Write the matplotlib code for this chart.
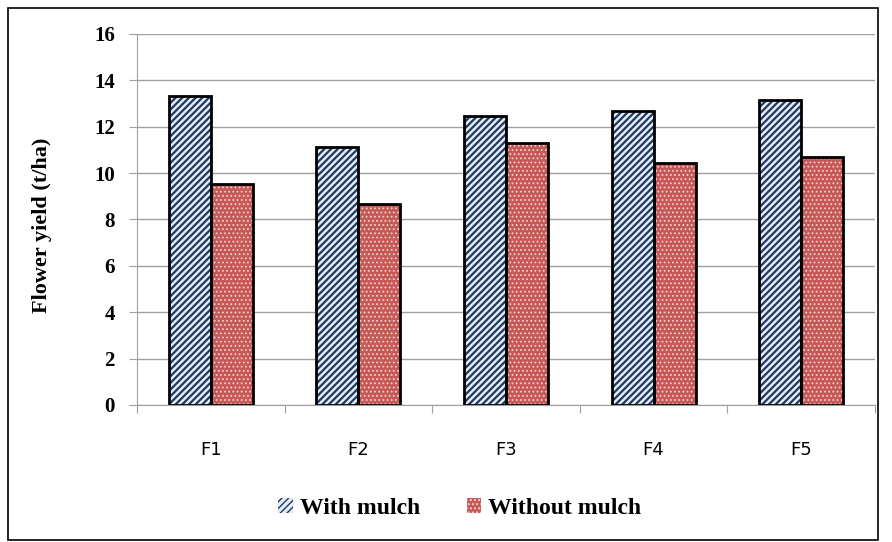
import numpy as np
import matplotlib.pyplot as plt
from matplotlib.patches import Rectangle

# data
cats = ["F1", "F2", "F3", "F4", "F5"]
with_mulch = [13.34, 11.14, 12.46, 12.69, 13.14]
without_mulch = [9.54, 8.67, 11.31, 10.42, 10.71]

fig = plt.figure(figsize=(8.92, 5.42), dpi=100)
ax = fig.add_axes([137/892, 1-405/542, (875-137)/892, (405-34)/542])

x = np.arange(len(cats))
w = 0.285

# hatched fills first, then black outlines
with plt.rc_context({"hatch.linewidth": 1.6}):
    ax.bar(x - w/2, with_mulch, w, color="#e4ecf6", edgecolor="#1f3864",
           hatch="/////", linewidth=0, zorder=2)
    h1 = Rectangle((0, 0), 1, 1, facecolor="#e4ecf6", edgecolor="#1f3864",
                   hatch="/////", lw=0)
with plt.rc_context({"hatch.linewidth": 0.8}):
    ax.bar(x + w/2, without_mulch, w, color="#c65856", edgecolor="#f0d0d0",
           hatch="....", linewidth=0, zorder=2)
    h2 = Rectangle((0, 0), 1, 1, facecolor="#c65856", edgecolor="#f0d0d0",
                   hatch="....", lw=0)
ax.bar(x - w/2, with_mulch, w, fill=False, edgecolor="black", linewidth=2, zorder=3)
ax.bar(x + w/2, without_mulch, w, fill=False, edgecolor="black", linewidth=2, zorder=3)

ax.set_xlim(-0.5, 4.5)
ax.set_ylim(0, 16)
ax.set_yticks(np.arange(0, 17, 2))
ax.yaxis.grid(True, color="#a0a0a0", linewidth=1)
ax.set_axisbelow(True)
ax.set_xticks(np.arange(-0.5, 5, 1), minor=False)
ax.set_xticklabels([])
ax.set_xticks(x, minor=True)
ax.set_xticklabels(cats, minor=True, fontsize=13, family="DejaVu Sans")
ax.tick_params(axis="x", which="major", length=6, color="#a0a0a0")
ax.tick_params(axis="x", which="minor", length=0, pad=26)
ax.tick_params(axis="y", length=6, color="#a0a0a0", pad=10)
for lab in ax.get_yticklabels():
    lab.set_fontfamily("Liberation Serif")
    lab.set_fontweight("bold")
    lab.set_fontsize(15)
for s in ["top", "right"]:
    ax.spines[s].set_visible(False)
ax.spines["left"].set_color("#a0a0a0")
ax.spines["bottom"].set_color("#a0a0a0")
ax.set_ylabel("Flower yield (t/ha)", family="Liberation Serif", fontweight="bold",
              fontsize=16)
ax.yaxis.set_label_coords(-0.115, 0.485)

# legend
fig.legend([h1, h2], ["With mulch", "Without mulch"], loc="center",
           bbox_to_anchor=(460/892, 1-508/542), ncol=2, frameon=False,
           prop={"family": "Liberation Serif", "weight": "bold", "size": 17},
           handlelength=0.6, handleheight=0.6, handletextpad=0.3, columnspacing=2)

# outer frame
fig.add_artist(Rectangle((8/892, 2/542), (878-8)/892, (534-2)/542,
                         transform=fig.transFigure, fill=False,
                         edgecolor="black", linewidth=1.2))

fig.savefig("out.png", dpi=100)
